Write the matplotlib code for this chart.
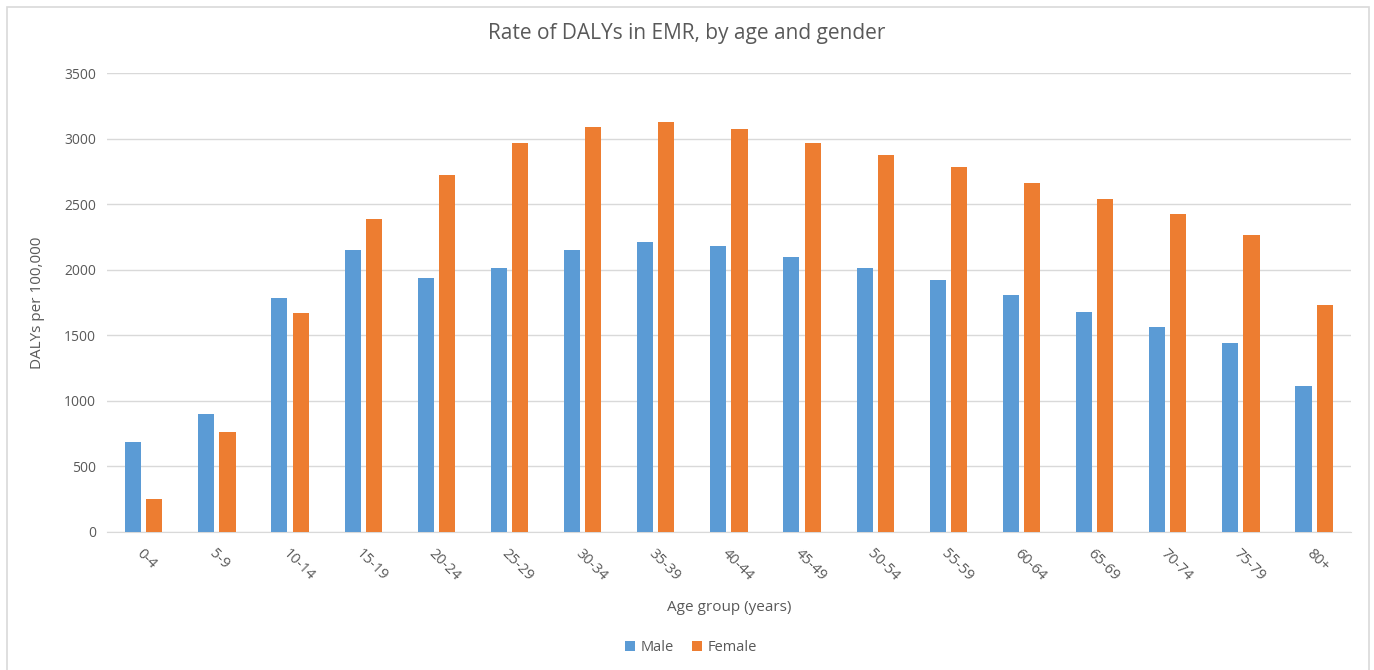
import numpy as np
import matplotlib.pyplot as plt
from matplotlib.patches import Rectangle

plt.rcParams.update({
    "font.family": ["Open Sans", "DejaVu Sans"],
    "font.size": 10,
    "text.color": "#595959",
    "axes.labelcolor": "#595959",
    "xtick.color": "#595959",
    "ytick.color": "#595959",
})

age_groups = ["0-4", "5-9", "10-14", "15-19", "20-24", "25-29", "30-34", "35-39",
              "40-44", "45-49", "50-54", "55-59", "60-64", "65-69", "70-74", "75-79", "80+"]
male = [690, 900, 1785, 2150, 1940, 2015, 2150, 2210, 2180, 2100, 2015, 1920,
        1805, 1675, 1560, 1440, 1110]
female = [250, 765, 1670, 2390, 2725, 2965, 3090, 3125, 3070, 2965, 2875, 2780,
          2660, 2540, 2425, 2265, 1730]

fig = plt.figure(figsize=(13.74, 6.7), dpi=100)
fig.patches.append(Rectangle((0.005, -0.01), 0.991, 1.0, transform=fig.transFigure,
                             fill=False, edgecolor="#D9D9D9", linewidth=1.2))
ax = fig.add_axes([0.078, 0.206, 0.905, 0.685])

x = np.arange(len(age_groups))
w = 0.22
gap = 0.035
ax.bar(x - w / 2 - gap, male, width=w, color="#5B9BD5", label="Male", zorder=3)
ax.bar(x + w / 2 + gap, female, width=w, color="#ED7D31", label="Female", zorder=3)

ax.set_xlim(-0.5, len(age_groups) - 0.5)
ax.set_ylim(0, 3500)
ax.set_yticks(np.arange(0, 3501, 500))
ax.set_xticks(x)
ax.set_xticklabels(age_groups, rotation=-45, ha="left", rotation_mode="anchor")
ax.tick_params(axis="y", length=0, labelsize=10, pad=8)
ax.tick_params(axis="x", length=0, labelsize=10.5, pad=10)
ax.grid(axis="y", color="#D9D9D9", linewidth=1, zorder=0)
for s in ["top", "right", "left"]:
    ax.spines[s].set_visible(False)
ax.spines["bottom"].set_color("#D9D9D9")

ax.set_xlabel("Age group (years)", fontsize=11, labelpad=12)
ax.set_ylabel("DALYs per 100,000", fontsize=11, labelpad=14)
fig.suptitle("Rate of DALYs in EMR, by age and gender", fontsize=15, y=0.965)

fig.legend(loc="center", bbox_to_anchor=(0.503, 0.033), ncol=2, frameon=False,
           fontsize=10.5, handlelength=0.7, handleheight=0.7, handletextpad=0.4,
           columnspacing=1.2)

plt.savefig("out.png", dpi=100)
